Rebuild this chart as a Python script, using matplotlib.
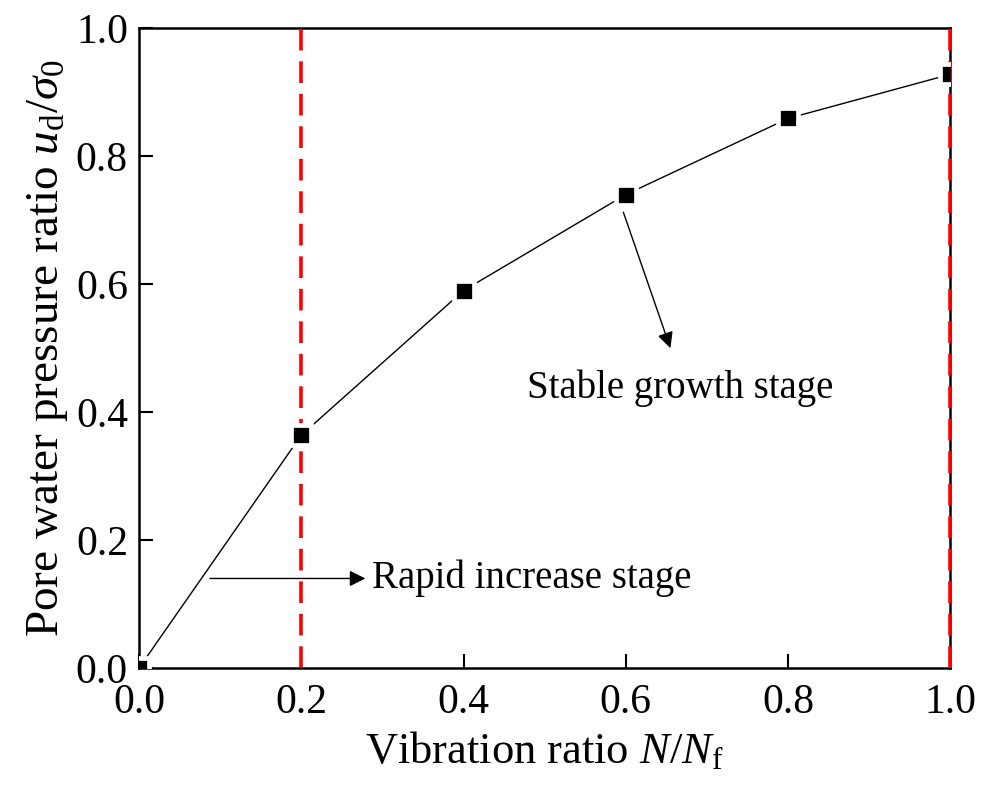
import numpy as np
import matplotlib
matplotlib.use("Agg")
import matplotlib.pyplot as plt

plt.rcParams['font.family'] = 'Liberation Serif'
plt.rcParams['mathtext.fontset'] = 'custom'
plt.rcParams['mathtext.rm'] = 'Liberation Serif'
plt.rcParams['mathtext.it'] = 'Liberation Serif:italic'

# vibration ratio N/Nf and pore pressure ratio ud/sigma0
vib_ratio = [0.0, 0.2, 0.4, 0.6, 0.8, 1.0]
pore_ratio = [0.0, 0.364, 0.59, 0.74, 0.859, 0.928]
stage_bounds = [0.2, 1.0]
ticks = [0.0, 0.2, 0.4, 0.6, 0.8, 1.0]

fig = plt.figure(figsize=(9.93, 7.85), dpi=100)
ax = fig.add_axes([0.14, 0.149, 0.817, 0.815])

# stage boundaries, drawn over the spine
for xb in stage_bounds:
    ax.plot([xb, xb], [0, 1], color='red', lw=2.6, dashes=(6, 3),
            zorder=2.6, clip_on=False)

ax.plot(vib_ratio, pore_ratio, color='black', lw=1.0, zorder=2)
ax.plot(vib_ratio, pore_ratio, ls='none', marker='s', ms=14.5, color='black',
        mec='white', mew=3.4, zorder=3)

ax.annotate('', xy=(0.279, 0.14), xytext=(0.0875, 0.14),
            arrowprops=dict(arrowstyle='-|>', color='black', lw=1.0,
                            mutation_scale=24, shrinkA=0, shrinkB=0))
ax.text(0.287, 0.14, 'Rapid increase stage', fontsize=28, va='center', ha='left')

ax.annotate('', xy=(0.655, 0.5), xytext=(0.597, 0.7125),
            arrowprops=dict(arrowstyle='-|>', color='black', lw=1.0,
                            mutation_scale=24, shrinkA=0, shrinkB=0))
ax.text(0.478, 0.4375, 'Stable growth stage', fontsize=28, va='center', ha='left')

ax.set_xlim(0, 1)
ax.set_ylim(0, 1)
ax.set_xticks(ticks)
ax.set_yticks(ticks)
ax.set_xticklabels([f'{t:.1f}' for t in ticks])
ax.set_yticklabels([f'{t:.1f}' for t in ticks])
ax.tick_params(direction='in', length=10, width=1.5, labelsize=30, pad=8,
               top=False, right=False)
ax.tick_params(axis='x', pad=11)
for sp in ax.spines.values():
    sp.set_linewidth(1.8)

ax.set_xlabel(r'Vibration ratio $N/N_\mathrm{f}$', fontsize=32, labelpad=6)
ax.set_ylabel(r'Pore water pressure ratio $u_\mathrm{d}/\sigma_0$', fontsize=34, labelpad=4)

fig.savefig('out.png', dpi=100)
